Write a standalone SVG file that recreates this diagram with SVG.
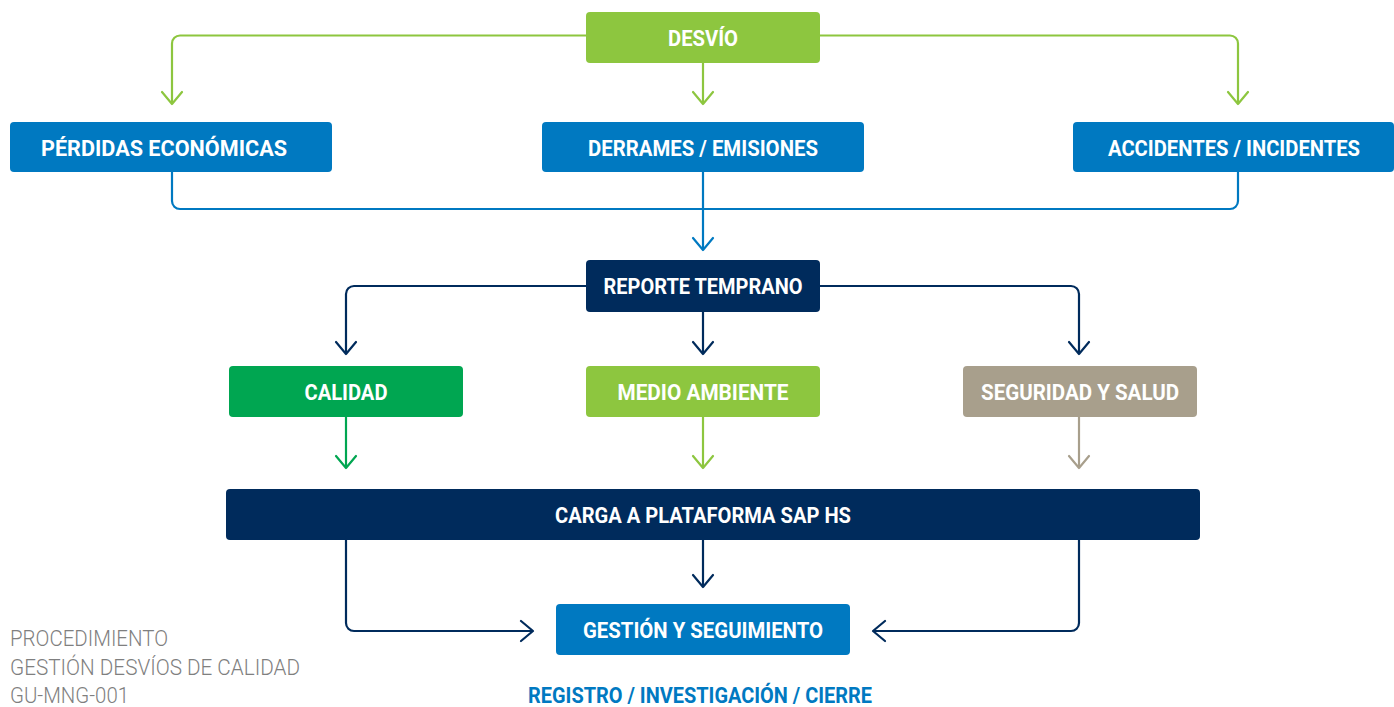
<svg xmlns="http://www.w3.org/2000/svg" width="1394" height="707" viewBox="0 0 1394 707">
<style>
.bt{font-family:Roboto,"Liberation Sans",sans-serif;font-weight:700;font-size:22px;fill:#fff;text-anchor:middle}
.ln{fill:none;stroke-width:2.2;stroke-linejoin:round}
.ah{fill:none;stroke-width:2.2;stroke-linecap:round;stroke-linejoin:round}
.g{stroke:#8DC63F}.b{stroke:#0079C1}.n{stroke:#002B5C}.q{stroke:#00A651}.t{stroke:#A89F8C}
.foot{font-family:Roboto,"Liberation Sans",sans-serif;font-weight:300;font-size:22px;fill:#7f7f7f}
</style>
<rect width="1394" height="707" fill="#fff"/>
<g id="connectors">
<path class="ln g" d="M586 35.5H180a8 8 0 0 0-8 8V103M820 35.5H1230a8 8 0 0 1 8 8V103M703 63V103"/>
<path class="ah g" d="M162 92L172 104L182 92M693 92L703 104L713 92M1228 92L1238 104L1248 92"/>
<path class="ln b" d="M172 172V201a8 8 0 0 0 8 8H1230a8 8 0 0 0 8-8V172M703 172V249"/>
<path class="ah b" d="M693 238L703 250L713 238"/>
<path class="ln n" d="M586 286H354a8 8 0 0 0-8 8V353M820 286H1071a8 8 0 0 1 8 8V353M703 312V353"/>
<path class="ah n" d="M336 342L346 354L356 342M693 342L703 354L713 342M1069 342L1079 354L1089 342"/>
<path class="ln q" d="M346 417V467"/><path class="ah q" d="M336 456L346 468L356 456"/>
<path class="ln g" d="M703 417V467"/><path class="ah g" d="M693 456L703 468L713 456"/>
<path class="ln t" d="M1079 417V467"/><path class="ah t" d="M1069 456L1079 468L1089 456"/>
<path class="ln n" d="M346 540V623a8 8 0 0 0 8 8H532M703 540V586M1079 540V623a8 8 0 0 1-8 8H874"/>
<path class="ah n" d="M693 575L703 587L713 575M521 621L533 631L521 641M885 621L873 631L885 641"/>
</g>
<g id="n-desvio"><rect x="586" y="12" width="234" height="51" rx="4" fill="#8DC63F"/><text class="bt" x="703" y="46" textLength="70" lengthAdjust="spacingAndGlyphs">DESVÍO</text></g>
<g id="n-perdidas"><rect x="10" y="122" width="322" height="50" rx="4" fill="#0079C1"/><text class="bt" x="164" y="156" textLength="246" lengthAdjust="spacingAndGlyphs">PÉRDIDAS ECONÓMICAS</text></g>
<g id="n-derrames"><rect x="542" y="122" width="322" height="50" rx="4" fill="#0079C1"/><text class="bt" x="703" y="156" textLength="230" lengthAdjust="spacingAndGlyphs">DERRAMES / EMISIONES</text></g>
<g id="n-accidentes"><rect x="1073" y="122" width="321" height="50" rx="4" fill="#0079C1"/><text class="bt" x="1234" y="156" textLength="252" lengthAdjust="spacingAndGlyphs">ACCIDENTES / INCIDENTES</text></g>
<g id="n-reporte"><rect x="586" y="260" width="234" height="52" rx="4" fill="#002B5C"/><text class="bt" x="703" y="294" textLength="199" lengthAdjust="spacingAndGlyphs">REPORTE TEMPRANO</text></g>
<g id="n-calidad"><rect x="229" y="366" width="234" height="51" rx="4" fill="#00A651"/><text class="bt" x="346" y="400" textLength="83" lengthAdjust="spacingAndGlyphs">CALIDAD</text></g>
<g id="n-medio"><rect x="586" y="366" width="234" height="51" rx="4" fill="#8DC63F"/><text class="bt" x="703" y="400" textLength="171" lengthAdjust="spacingAndGlyphs">MEDIO AMBIENTE</text></g>
<g id="n-seguridad"><rect x="963" y="366" width="234" height="51" rx="4" fill="#A89F8C"/><text class="bt" x="1080" y="400" textLength="198" lengthAdjust="spacingAndGlyphs">SEGURIDAD Y SALUD</text></g>
<g id="n-carga"><rect x="226" y="489" width="974" height="51" rx="4" fill="#002B5C"/><text class="bt" x="703" y="523" textLength="296" lengthAdjust="spacingAndGlyphs">CARGA A PLATAFORMA SAP HS</text></g>
<g id="n-gestion"><rect x="556" y="604" width="294" height="51" rx="4" fill="#0079C1"/><text class="bt" x="703" y="638" textLength="240" lengthAdjust="spacingAndGlyphs">GESTIÓN Y SEGUIMIENTO</text></g>
<g id="t-registro"><text class="bt" x="700" y="703" style="fill:#0079C1" textLength="344" lengthAdjust="spacingAndGlyphs">REGISTRO / INVESTIGACIÓN / CIERRE</text></g>
<g id="t-footer">
<text class="foot" x="10" y="646" textLength="158" lengthAdjust="spacingAndGlyphs">PROCEDIMIENTO</text>
<text class="foot" x="10" y="675" textLength="290" lengthAdjust="spacingAndGlyphs">GESTIÓN DESVÍOS DE CALIDAD</text>
<text class="foot" x="10" y="703" textLength="119" lengthAdjust="spacingAndGlyphs">GU-MNG-001</text>
</g>
</svg>
